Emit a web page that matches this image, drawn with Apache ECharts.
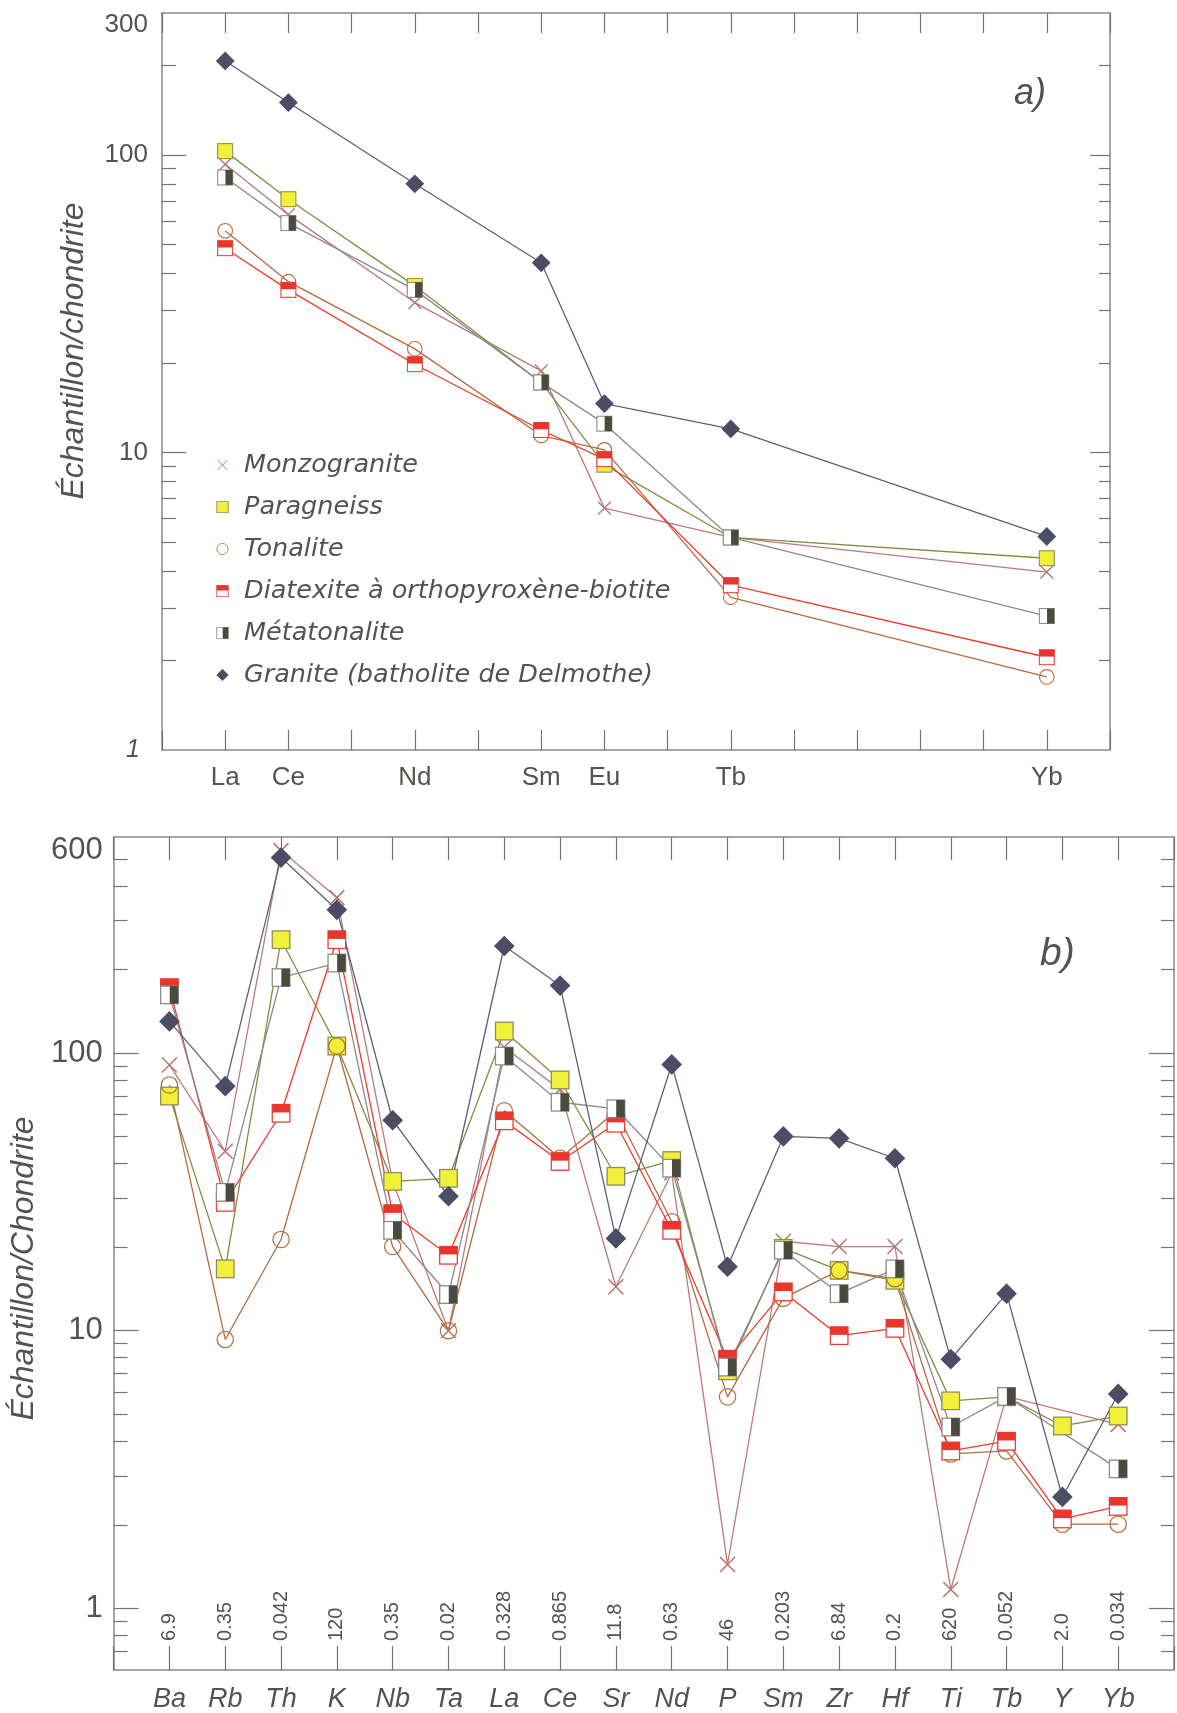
<!DOCTYPE html>
<html>
<head>
<meta charset="utf-8">
<script src="https://cdn.jsdelivr.net/npm/echarts@6/dist/echarts.min.js"></script>
<style>
html,body{margin:0;padding:0;background:#fff;}
#c{width:1177px;height:1713px;}
</style>
</head>
<body>
<div id="c"></div>
<script>
// ---------- Chart a) : REE ----------
const reeLabels = ['La', 'Ce', 'Nd', 'Sm', 'Eu', 'Tb', 'Yb'];
const reeZ = [57, 58, 60, 62, 63, 65, 70];
const aMonzo = [93, 63, 31.9, 18.8, 6.5, 5.18, 3.96];
const aPara  = [103, 71, 36.3, 17.2, 9.1, 5.18, 4.41];
const aTon   = [55.6, 37.5, 22.3, 11.4, 10.2, 3.26, 1.76];
const aDiat  = [48.6, 35.2, 19.8, 11.9, 9.5, 3.58, 2.05];
const aMeta  = [84, 59, 35.2, 17.2, 12.5, 5.18, 2.82];
const aGran  = [207, 150, 80, 43.4, 14.6, 12.0, 5.22];
const aYLabels = [1, 10, 100, 300];
const aYMinor = [2, 3, 4, 5, 6, 7, 8, 9, 20, 30, 40, 50, 60, 70, 80, 90, 200];
const aYMajor = [10, 100];

// ---------- Chart b) : spider ----------
const elemB = ['Ba', 'Rb', 'Th', 'K', 'Nb', 'Ta', 'La', 'Ce', 'Sr', 'Nd', 'P', 'Sm', 'Zr', 'Hf', 'Ti', 'Tb', 'Y', 'Yb'];
const normB = ['6.9', '0.35', '0.042', '120', '0.35', '0.02', '0.328', '0.865', '11.8', '0.63', '46', '0.203', '6.84', '0.2', '620', '0.052', '2.0', '0.034'];
const bMonzo = [90.6, 44.3, 536, 363, 34.5, 10, 105, 74, 14.4, 37, 1.44, 21, 20.1, 20.1, 1.17, 5.8, null, 4.6];
const bPara  = [70, 16.7, 256, 106, 34.5, 35.4, 120, 80, 36, 41, 7.17, 19.8, 16.5, 15.2, 5.59, 5.78, 4.54, 4.93];
const bTon   = [76.7, 9.3, 21.3, 106, 20.1, 10, 62, 41.8, 61.7, 24.7, 5.78, 13.1, 16.5, 15.4, 3.6, 3.69, 2.01, 2.01];
const bDiat  = [172, 29, 60.7, 256, 26.4, 18.7, 57, 40.7, 55.9, 23, 7.9, 13.8, 9.6, 10.2, 3.69, 4.0, 2.1, 2.33];
const bMeta  = [162, 31.5, 187, 211, 23, 13.5, 97.5, 66.5, 63, 38.5, 7.4, 19.5, 13.6, 16.7, 4.5, 5.8, null, 3.18];
const bGran  = [130, 76, 506, 328, 57.3, 30.5, 243, 175, 21.5, 91, 17, 50.1, 49.3, 41.8, 7.9, 13.6, 2.52, 5.92];
const bYLabels = [1, 10, 100, 600];
const bYMinor = [0.7, 0.8, 0.9, 2, 3, 4, 5, 6, 7, 8, 9, 20, 30, 40, 50, 60, 70, 80, 90, 200, 300, 400, 500];
const bYMajor = [1, 10, 100];

const names = ['Monzogranite', 'Paragneiss', 'Tonalite', 'Diatexite à orthopyroxène-biotite', 'Métatonalite', 'Granite (batholite de Delmothe)'];

function svg(inner) {
  const s = '<svg xmlns="http://www.w3.org/2000/svg" width="60" height="60" viewBox="0 0 20 20">' + inner + '</svg>';
  return 'image://data:image/svg+xml;base64,' + btoa(s);
}
const SYM = [
  svg('<path d="M2.5,2.5L17.5,17.5M17.5,2.5L2.5,17.5" stroke="#b87474" stroke-width="1.5" fill="none"/>'),
  svg('<rect x="1.2" y="1.2" width="17.6" height="17.6" fill="#f3f03a" stroke="#8e8c5e" stroke-width="1.3"/>'),
  svg('<circle cx="10" cy="10" r="8.6" fill="none" stroke="#b5703f" stroke-width="1.3"/>'),
  svg('<rect x="1.2" y="1.2" width="17.6" height="17.6" fill="#ffffff" stroke="#e8413a" stroke-width="1.3"/><rect x="1.2" y="1.2" width="17.6" height="8" fill="#e8362e"/>'),
  svg('<rect x="1.2" y="1.2" width="17.6" height="17.6" fill="#ffffff" stroke="#8c8c88" stroke-width="1.3"/><rect x="10.3" y="1.2" width="8.5" height="17.6" fill="#4a4a3e"/>'),
  svg('<polygon points="10,0.6 19.4,10 10,19.4 0.6,10" fill="#4c4c64"/>')
];
const LINE = ['#b97b7b', '#7f8f3f', '#b26c42', '#ee3b2e', '#8a8a8a', '#5f5f7a'];
const SIZE_A = [17, 17, 17, 17, 17, 20];
const SIZE_B = [20, 20, 19, 20, 20, 22];

const TXT = '#55524f';
const AX = '#8c8a88';
const FONT = 'Liberation Sans';
const lg = v => Math.log10(v);

function mk(i, vals, xs, xi, yi, size) {
  return {
    type: 'line', name: names[i], xAxisIndex: xi, yAxisIndex: yi,
    data: xs.map((x, k) => [x, vals[k]]),
    symbol: SYM[i], symbolSize: size, showSymbol: true, connectNulls: true,
    lineStyle: { color: LINE[i], width: 1.3 }, itemStyle: { color: LINE[i] },
    emphasis: { disabled: true }, animation: false
  };
}
const idxB = elemB.map((e, k) => k);
const series = [
  mk(0, aMonzo, reeZ, 0, 0, SIZE_A[0]), mk(1, aPara, reeZ, 0, 0, SIZE_A[1]),
  mk(2, aTon, reeZ, 0, 0, SIZE_A[2]), mk(3, aDiat, reeZ, 0, 0, SIZE_A[3]),
  mk(4, aMeta, reeZ, 0, 0, SIZE_A[4]), mk(5, aGran, reeZ, 0, 0, SIZE_A[5]),
  mk(0, bMonzo, idxB, 2, 5, SIZE_B[0]), mk(1, bPara, idxB, 2, 5, SIZE_B[1]),
  mk(2, bTon, idxB, 2, 5, SIZE_B[2]), mk(3, bDiat, idxB, 2, 5, SIZE_B[3]),
  mk(4, bMeta, idxB, 2, 5, SIZE_B[4]), mk(5, bGran, idxB, 2, 5, SIZE_B[5])
];

const aMin = 0, aMax = lg(300);
const bMin = lg(0.6), bMax = lg(600);

function tickAxis(grid, pos, min, max, vals, len, showLine) {
  return {
    type: 'value', gridIndex: grid, position: pos, min: min, max: max,
    axisLine: { show: showLine, onZero: false, lineStyle: { color: AX, width: 1.5 } },
    axisTick: { show: true, inside: true, length: len, customValues: vals.map(lg), lineStyle: { color: '#77736f', width: 1.2 } },
    axisLabel: { show: false }, splitLine: { show: false }
  };
}

const yAxes = [
  { type: 'log', logBase: 10, gridIndex: 0, min: 1, max: 300, show: false },
  Object.assign(tickAxis(0, 'left', aMin, aMax, aYMinor, 14, true), {
    axisLabel: {
      show: true, customValues: aYLabels.map(lg), margin: 14,
      fontFamily: FONT, fontSize: 26, color: TXT,
      formatter: v => {
        const n = Math.round(Math.pow(10, v));
        if (n === 300) return '{top|300}';
        if (n === 1) return '{it|1}';
        return String(n);
      },
      rich: {
        top: { fontFamily: FONT, fontSize: 26, color: TXT, padding: [24, 0, 0, 0] },
        it: { fontFamily: FONT, fontSize: 25, color: TXT, fontStyle: 'italic', padding: [0, 8, 0, 0] }
      }
    },
    name: 'Échantillon/chondrite', nameLocation: 'middle', nameRotate: 90, nameGap: 72,
    nameTextStyle: { fontFamily: FONT, fontSize: 32, fontStyle: 'italic', color: TXT, padding: [0, 0, 0, 61] }
  }),
  tickAxis(0, 'left', aMin, aMax, aYMajor, 24, false),
  tickAxis(0, 'right', aMin, aMax, aYMinor, 11, true),
  tickAxis(0, 'right', aMin, aMax, aYMajor, 20, false),
  { type: 'log', logBase: 10, gridIndex: 1, min: 0.6, max: 600, show: false },
  Object.assign(tickAxis(1, 'left', bMin, bMax, bYMinor, 14, true), {
    axisLabel: {
      show: true, customValues: bYLabels.map(lg), margin: 11,
      fontFamily: FONT, fontSize: 31, color: TXT,
      formatter: v => {
        const n = Math.round(Math.pow(10, v));
        if (n === 600) return '{top|600}';
        return String(n);
      },
      rich: { top: { fontFamily: FONT, fontSize: 31, color: TXT, padding: [26, 0, 0, 0] } }
    },
    name: 'Échantillon/Chondrite', nameLocation: 'middle', nameRotate: 90, nameGap: 64,
    nameTextStyle: { fontFamily: FONT, fontSize: 32, fontStyle: 'italic', color: TXT, padding: [0, 30, 0, 0] }
  }),
  tickAxis(1, 'left', bMin, bMax, bYMajor, 25, false),
  tickAxis(1, 'right', bMin, bMax, bYMinor, 13, true),
  tickAxis(1, 'right', bMin, bMax, bYMajor, 25, false)
];

const xTick = (len) => ({ show: true, inside: true, length: len, lineStyle: { color: '#77736f', width: 1.2 } });
const xAxes = [
  { type: 'value', gridIndex: 0, position: 'bottom', min: 56, max: 71, interval: 1,
    axisLine: { show: true, onZero: false, lineStyle: { color: AX, width: 1.5 } },
    axisTick: xTick(20), splitLine: { show: false },
    axisLabel: { margin: 15, fontFamily: FONT, fontSize: 26, color: TXT,
      formatter: v => { const k = reeZ.indexOf(v); return k >= 0 ? reeLabels[k] : ''; } } },
  { type: 'value', gridIndex: 0, position: 'top', min: 56, max: 71, interval: 1,
    axisLine: { show: true, onZero: false, lineStyle: { color: AX, width: 1.5 } },
    axisTick: xTick(20), splitLine: { show: false }, axisLabel: { show: false } },
  { type: 'value', gridIndex: 1, position: 'bottom', min: -1, max: 18, interval: 1,
    axisLine: { show: true, onZero: false, lineStyle: { color: AX, width: 1.5 } },
    axisTick: xTick(24), splitLine: { show: false },
    axisLabel: { margin: 16, fontFamily: FONT, fontSize: 27, fontStyle: 'italic', color: TXT,
      formatter: v => elemB[v] !== undefined ? elemB[v] : '' } },
  { type: 'value', gridIndex: 1, position: 'bottom', min: -1, max: 18, interval: 1,
    axisLine: { show: false, onZero: false }, axisTick: { show: false }, splitLine: { show: false },
    axisLabel: { inside: true, rotate: 90, margin: 29, fontFamily: FONT, fontSize: 20, color: TXT,
      formatter: v => normB[v] !== undefined ? normB[v] : '' } },
  { type: 'value', gridIndex: 1, position: 'top', min: -1, max: 18, interval: 1,
    axisLine: { show: true, onZero: false, lineStyle: { color: AX, width: 1.5 } },
    axisTick: xTick(23), splitLine: { show: false }, axisLabel: { show: false } }
];

const chart = echarts.init(document.getElementById('c'), null, { renderer: 'canvas' });
chart.setOption({
  animation: false,
  backgroundColor: '#ffffff',
  title: [
    { text: 'a)', left: 1014, top: 76, padding: 0,
      textStyle: { fontFamily: FONT, fontSize: 36, fontStyle: 'italic', fontWeight: 'normal', color: TXT } },
    { text: 'b)', left: 1040, top: 935, padding: 0,
      textStyle: { fontFamily: FONT, fontSize: 39, fontStyle: 'italic', fontWeight: 'normal', color: TXT } }
  ],
  legend: {
    orient: 'vertical', left: 216, top: 451, padding: 0,
    itemWidth: 13, itemHeight: 13, itemGap: 14,
    data: names.map((n, i) => ({ name: n, icon: SYM[i] })),
    textStyle: { fontFamily: 'DejaVu Sans', fontSize: 25.5, fontStyle: 'italic', color: TXT, lineHeight: 28, padding: [0, 0, 0, 10] },
    selectedMode: false
  },
  grid: [
    { left: 162, top: 13, width: 948, height: 737 },
    { left: 111, top: 837, width: 1076, height: 834 }
  ],
  xAxis: xAxes,
  yAxis: yAxes,
  series: series
});
</script>
</body>
</html>
